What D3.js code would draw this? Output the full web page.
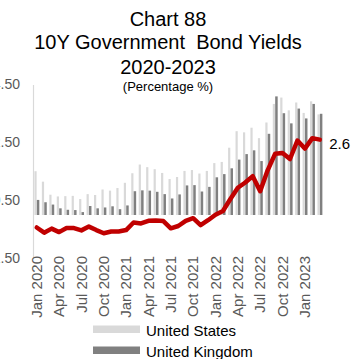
<!DOCTYPE html>
<html>
<head>
<meta charset="utf-8">
<script src="https://cdn.jsdelivr.net/npm/d3@7"></script>
<style>
  html, body { margin: 0; padding: 0; background: #fff; }
  svg { display: block; font-family: "Liberation Sans", Arial, sans-serif; }
</style>
</head>
<body>
<svg id="chart" width="353" height="359"></svg>
<script>
// Month-end 10-year yields, Jan 2020 – Mar 2023
const months = [
  "Jan 2020","Feb 2020","Mar 2020","Apr 2020","May 2020","Jun 2020","Jul 2020","Aug 2020","Sep 2020","Oct 2020","Nov 2020","Dec 2020",
  "Jan 2021","Feb 2021","Mar 2021","Apr 2021","May 2021","Jun 2021","Jul 2021","Aug 2021","Sep 2021","Oct 2021","Nov 2021","Dec 2021",
  "Jan 2022","Feb 2022","Mar 2022","Apr 2022","May 2022","Jun 2022","Jul 2022","Aug 2022","Sep 2022","Oct 2022","Nov 2022","Dec 2022",
  "Jan 2023","Feb 2023","Mar 2023"
];
const unitedStates = [
  1.51, 1.15, 0.70, 0.64, 0.65, 0.66, 0.55, 0.72, 0.69, 0.88, 0.84, 0.93,
  1.11, 1.44, 1.74, 1.65, 1.58, 1.45, 1.24, 1.31, 1.52, 1.55, 1.43, 1.52,
  1.79, 1.83, 2.32, 2.89, 2.85, 3.01, 2.65, 3.19, 3.83, 4.05, 3.61, 3.88,
  3.52, 3.92, 3.47
];
const unitedKingdom = [
  0.52, 0.44, 0.36, 0.23, 0.18, 0.17, 0.10, 0.31, 0.23, 0.26, 0.30, 0.20,
  0.33, 0.82, 0.85, 0.84, 0.80, 0.72, 0.57, 0.71, 1.02, 1.03, 0.81, 0.97,
  1.30, 1.41, 1.61, 1.91, 2.10, 2.23, 1.86, 2.80, 4.09, 3.51, 3.16, 3.67,
  3.33, 3.83, 3.49
];
const lineSeries = [
  -0.43, -0.61, -0.47, -0.59, -0.45, -0.45, -0.53, -0.40, -0.52, -0.63, -0.57, -0.57,
  -0.52, -0.26, -0.29, -0.20, -0.19, -0.21, -0.46, -0.38, -0.20, -0.11, -0.35, -0.18,
  0.01, 0.14, 0.55, 0.94, 1.12, 1.34, 0.82, 1.54, 2.11, 2.14, 1.93, 2.57,
  2.29, 2.65, 2.6
];
const yTicks = [-1.5, 0.5, 2.5, 4.5];
const xTickLabels = months.filter((m, i) => i % 3 === 0);
const titleLines = ["Chart 88", "10Y Government  Bond Yields", "2020-2023"];
const subtitle = "(Percentage %)";
const legendItems = ["United States", "United Kingdom"];
const lastLabel = "2.6";

const svg = d3.select("#chart");
const grey = "#595959";

const x = d3.scaleBand().domain(months).range([33, 323.5]).padding(0);
const y = d3.scaleLinear().domain([-1.5, 4.5]).range([258.5, 84.5]);
const cx = m => x(m) + x.bandwidth() / 2;

// Titles
const titleX = 168;
svg.selectAll("text.title")
  .data(titleLines)
  .join("text")
  .attr("class", "title")
  .attr("x", titleX)
  .attr("y", (d, i) => [26, 49, 74][i])
  .attr("text-anchor", "middle")
  .attr("font-size", 20)
  .attr("fill", "#000")
  .style("white-space", "pre")
  .text(d => d);

svg.append("text")
  .attr("x", titleX)
  .attr("y", 91)
  .attr("text-anchor", "middle")
  .attr("font-size", 13)
  .attr("fill", "#000")
  .text(subtitle);

// Y axis
const yAxis = svg.append("g")
  .attr("transform", "translate(33,0)")
  .call(d3.axisLeft(y).tickValues(yTicks).tickFormat(d3.format(".2f")).tickSize(0).tickSizeOuter(0).tickPadding(13));
yAxis.select(".domain").attr("stroke", "#d9d9d9").attr("stroke-width", 1.2);
yAxis.selectAll("text")
  .attr("font-size", 14)
  .attr("font-family", "Liberation Sans, Arial, sans-serif")
  .attr("fill", grey);

// Bars
svg.append("g").selectAll("rect")
  .data(months)
  .join("rect")
  .attr("x", m => cx(m) - 2.3)
  .attr("width", 2.2)
  .attr("y", (m, i) => y(Math.max(0, unitedStates[i])))
  .attr("height", (m, i) => Math.abs(y(unitedStates[i]) - y(0)))
  .attr("fill", "#d9d9d9");

svg.append("g").selectAll("rect")
  .data(months)
  .join("rect")
  .attr("x", m => cx(m) + 0.1)
  .attr("width", 2.5)
  .attr("y", (m, i) => y(Math.max(0, unitedKingdom[i])))
  .attr("height", (m, i) => Math.abs(y(unitedKingdom[i]) - y(0)))
  .attr("fill", "#808080");

// Red line
const line = d3.line()
  .x((d, i) => cx(months[i]))
  .y(d => y(d));
svg.append("path")
  .datum(lineSeries)
  .attr("d", line)
  .attr("fill", "none")
  .attr("stroke", "#c00000")
  .attr("stroke-width", 4.5)
  .attr("stroke-linejoin", "round")
  .attr("stroke-linecap", "round");

const lastI = lineSeries.length - 1;
svg.append("text")
  .attr("x", cx(months[lastI]) + 9.5)
  .attr("y", y(lineSeries[lastI]) + 9.5)
  .attr("font-size", 15)
  .attr("fill", "#000")
  .text(lastLabel);

// X axis labels
const xAxis = svg.append("g")
  .attr("transform", "translate(0,256)")
  .call(d3.axisBottom(x).tickValues(xTickLabels).tickSize(0).tickSizeOuter(0));
xAxis.select(".domain").remove();
xAxis.selectAll("text")
  .attr("transform", "rotate(-90)")
  .attr("text-anchor", "end")
  .attr("x", 0)
  .attr("y", 0)
  .attr("dy", "0.35em")
  .attr("font-size", 15)
  .attr("font-family", "Liberation Sans, Arial, sans-serif")
  .attr("fill", grey);

// Legend
const legendColors = ["#d9d9d9", "#808080"];
const legend = svg.append("g").selectAll("g")
  .data(legendItems)
  .join("g")
  .attr("transform", (d, i) => `translate(93,${325.5 + i * 21})`);
legend.append("rect")
  .attr("width", 47)
  .attr("height", 7.5)
  .attr("fill", (d, i) => legendColors[i]);
legend.append("text")
  .attr("x", 53)
  .attr("y", 10.5)
  .attr("font-size", 15)
  .attr("fill", "#000")
  .text(d => d);
</script>
</body>
</html>
